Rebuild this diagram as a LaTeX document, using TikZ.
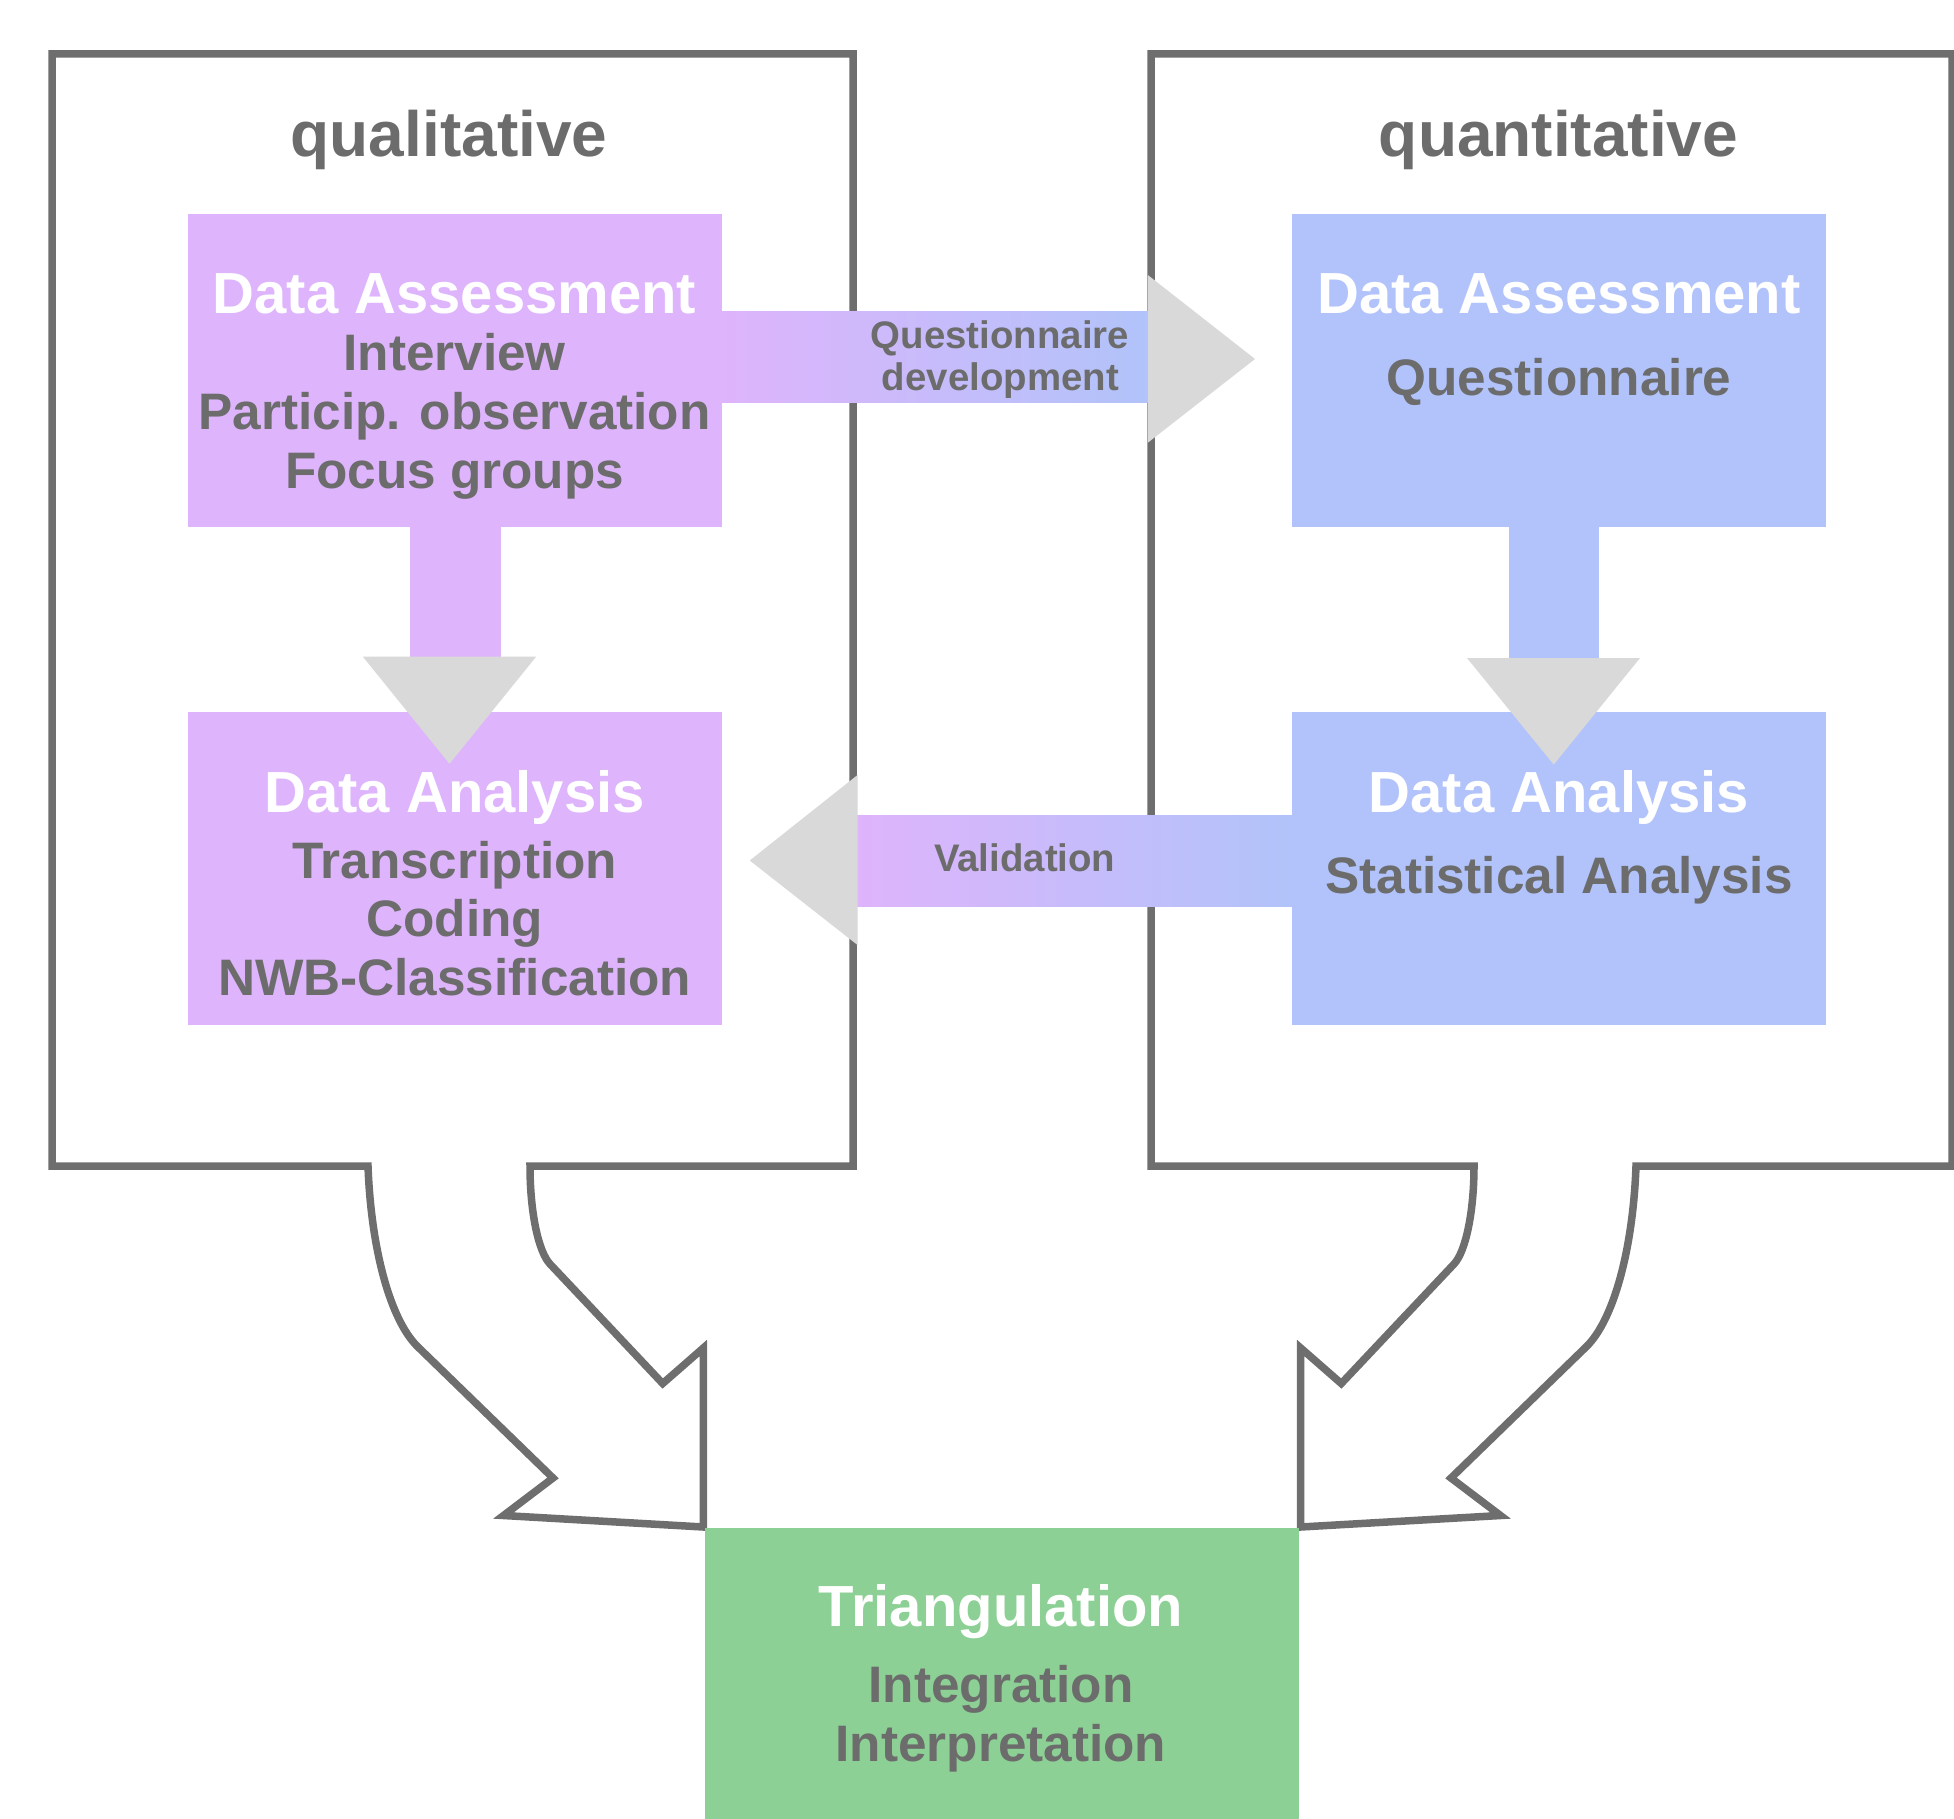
\documentclass[tikz,border=0pt]{standalone}
\usepackage{fontspec}
\setmainfont{Liberation Sans}
\usetikzlibrary{calc}
\definecolor{qpurple}{RGB}{222,180,252}
\definecolor{qblue}{RGB}{177,195,250}
\definecolor{qgreen}{RGB}{141,208,149}
\definecolor{headgray}{RGB}{217,217,217}
\definecolor{linegray}{RGB}{110,110,110}
\definecolor{textgray}{RGB}{108,108,108}
\begin{document}
\begin{tikzpicture}[x=1pt,y=-1pt,
  outline/.style={draw=linegray, line width=7.5pt, fill=white, line join=miter},
  pbox/.style={fill=qpurple, draw=none, inner sep=0pt, outer sep=0pt, minimum width=533.6pt, minimum height=312.9pt},
  bbox/.style={fill=qblue, draw=none, inner sep=0pt, outer sep=0pt, minimum width=533.6pt, minimum height=312.9pt},
  gbox/.style={fill=qgreen, draw=none, inner sep=0pt, outer sep=0pt},
  arrowhead/.style={fill=headgray, draw=none},
  hdr/.style={anchor=base, inner sep=0pt, text=textgray, font=\bfseries\fontsize{64}{70}\selectfont},
  ttl/.style={anchor=base, inner sep=0pt, text=white, font=\bfseries\fontsize{58}{62}\selectfont},
  bdy/.style={anchor=base, inner sep=0pt, text=textgray, font=\bfseries\fontsize{51.3}{56}\selectfont},
  lbl/.style={anchor=base, inner sep=0pt, text=textgray, font=\bfseries\fontsize{38.4}{42}\selectfont}
]
\useasboundingbox (0,0) rectangle (1954,1819);

% outlined frames with curved block arrows
\draw[outline] (368,1166) .. controls (371,1248) and (390,1320) .. (418,1347)
  -- (553,1478) -- (503.5,1515.5) -- (703.3,1527) -- (703.3,1348) -- (662.7,1383.5)
  -- (550,1264) .. controls (538.6,1252) and (530,1213) .. (530,1166)
  -- (853,1166) -- (853,54) -- (52,54) -- (52,1166) -- cycle;
\draw[outline] (1636,1166) .. controls (1633,1248) and (1614,1320) .. (1586,1347)
  -- (1451,1478) -- (1500.5,1515.5) -- (1300.7,1527) -- (1300.7,1348) -- (1341.3,1383.5)
  -- (1454,1264) .. controls (1465.4,1252) and (1474,1213) .. (1474,1166)
  -- (1151,1166) -- (1151,54) -- (1952,54) -- (1952,1166) -- cycle;

% boxes
\node[pbox] (qualAssess) at (454.8,370.05) {};
\node[bbox] (quantAssess) at (1558.8,370.05) {};
\node[pbox] (qualAnalysis) at (454.8,868.85) {};
\node[bbox] (quantAnalysis) at (1558.8,868.85) {};
\node[gbox, minimum width=594.3pt, minimum height=293pt] (triang) at (1001.85,1674.8) {};

% block arrows
\fill[qpurple] (410,526) rectangle (500.6,657);
\fill[arrowhead] (362.8,656.6) -- (449.5,763.8) -- (536.2,656.6) -- cycle;
\fill[qblue] (1508.6,526) rectangle (1599.3,658);
\fill[arrowhead] (1467,658) -- (1553.7,764.6) -- (1640,658) -- cycle;

\fill[left color=qpurple, right color=qblue] (721.6,312) rectangle (1148,402.6);
\fill[arrowhead] (1147.8,275) -- (1255,359) -- (1147.8,442.7) -- cycle;

\fill[left color=qpurple, right color=qblue] (857,815.7) rectangle (1292,906);
\fill[arrowhead] (857.5,775) -- (749.75,860.5) -- (857.5,945) -- cycle;

% headers
\node[hdr] (qualHdr) at (449,157) {qualitative};
\node[hdr] (quantHdr) at (1558.5,157) {quantitative};

% texts
\node[ttl] (qaT) at (454.6,313.8) {Data Assessment};
\node[bdy] (qa1) at (454.6,370.4) {Interview};
\node[bdy] (qa2) at (454.6,429.4) {Particip. observation};
\node[bdy] (qa3) at (454.6,488) {Focus groups};

\node[ttl] (naT) at (1559,313.8) {Data Assessment};
\node[bdy] (na1) at (1559,395) {Questionnaire};

\node[ttl] (qyT) at (454.6,812.4) {Data Analysis};
\node[bdy] (qy1) at (454.6,878.6) {Transcription};
\node[bdy] (qy2) at (454.6,936.8) {Coding};
\node[bdy] (qy3) at (454.6,995) {NWB-Classification};

\node[ttl] (nyT) at (1559,812.4) {Data Analysis};
\node[bdy] (ny1) at (1559,893.9) {Statistical Analysis};

\node[ttl] (tT) at (1001,1626.7) {Triangulation};
\node[bdy] (t1) at (1001,1702.7) {Integration};
\node[bdy] (t2) at (1001,1761) {Interpretation};

\node[lbl] (qd1) at (1000,348.3) {Questionnaire};
\node[lbl] (qd2) at (1000.4,390) {development};
\node[lbl] (val) at (1024.7,871) {Validation};
\end{tikzpicture}
\end{document}
